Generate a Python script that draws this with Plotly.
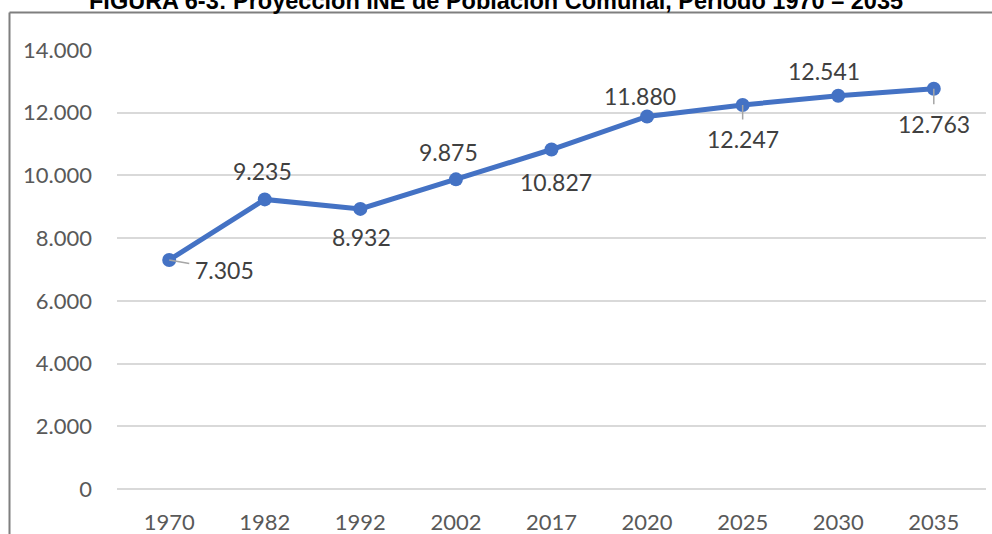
import plotly.graph_objects as go

years = ["1970", "1982", "1992", "2002", "2017", "2020", "2025", "2030", "2035"]
population = [7305, 9235, 8932, 9875, 10827, 11880, 12247, 12541, 12763]
# label offsets (px) from each point: (dx, dy), and whether a leader line is drawn
label_dx = [55, -2, 1, -7, 4, -7, 0, -14, 0]
label_dy = [10, -28, 28, -27, 32, -20, 34, -25, 35]
leader = [True, False, False, False, False, False, True, False, True]
y_ticks = [0, 2000, 4000, 6000, 8000, 10000, 12000, 14000]
title_text = "FIGURA 6-3: Proyección INE de Población Comunal, Período 1970 – 2035"

def fmt(v):
    return f"{v:,}".replace(",", ".")

FONT = "Lato"
BLUE = "#4472C4"
L, R, T, B = 117, 6, 50, 45
PW, PH = 992 - L - R, 534 - T - B

fig = go.Figure()
fig.add_trace(go.Scatter(
    x=years, y=population, mode="lines+markers",
    line=dict(color=BLUE, width=5),
    marker=dict(color=BLUE, size=14),
    hoverinfo="x+y", showlegend=False,
))

annotations = []
for i, (v, dx, dy, ld) in enumerate(zip(population, label_dx, label_dy, leader)):
    if ld:
        annotations.append(dict(
            x=i, y=v, xref="x", yref="y", text=fmt(v),
            showarrow=True, arrowhead=0, arrowwidth=1.5, arrowcolor="#a6a6a6",
            ax=dx, ay=dy, standoff=0, startstandoff=4,
            font=dict(family=FONT, size=23, color="#404040"),
        ))
    else:
        annotations.append(dict(
            x=i, y=v, xref="x", yref="y", text=fmt(v), showarrow=False,
            xshift=dx, yshift=-dy,
            font=dict(family=FONT, size=23, color="#404040"),
        ))

annotations.append(dict(
    text="<b>" + title_text + "</b>", xref="paper", yref="paper",
    x=(496 - L) / PW, y=1 + (T - 1) / PH, xanchor="center", yanchor="middle",
    showarrow=False, font=dict(family="Liberation Sans", size=23.5, color="#000000"),
))

frame_x = (9.5 - L) / PW
frame_y = 1 + (T - 12.5) / PH
fig.update_layout(
    template="none",
    width=992, height=534,
    margin=dict(l=L, r=R, t=T, b=B, pad=0),
    paper_bgcolor="white", plot_bgcolor="white",
    separators=",.",
    annotations=annotations,
    shapes=[
        dict(type="line", xref="paper", yref="paper", layer="above",
             x0=frame_x, x1=1.2, y0=frame_y, y1=frame_y,
             line=dict(color="#7f7f7f", width=2)),
        dict(type="line", xref="paper", yref="paper", layer="above",
             x0=frame_x, x1=frame_x, y0=-0.3, y1=frame_y,
             line=dict(color="#7f7f7f", width=2)),
    ],
)
fig.update_xaxes(
    type="category", showgrid=False, showline=False, ticks="", automargin=False,
    tickfont=dict(family=FONT, size=22, color="#595959"),
    ticklabelstandoff=18,
)
fig.update_yaxes(
    range=[0, 14000], tickvals=y_ticks, ticktext=[fmt(t) for t in y_ticks],
    showgrid=True, gridcolor="#d9d9d9", gridwidth=1.5, automargin=False,
    zeroline=True, zerolinecolor="#d9d9d9", zerolinewidth=1.5,
    showline=False, ticks="",
    tickfont=dict(family=FONT, size=22, color="#595959"),
    ticklabelstandoff=24,
)

fig.write_html(
    "out.html",
    config={"displayModeBar": False},
    post_script="document.body.style.margin='0';document.body.style.overflow='hidden';",
)
